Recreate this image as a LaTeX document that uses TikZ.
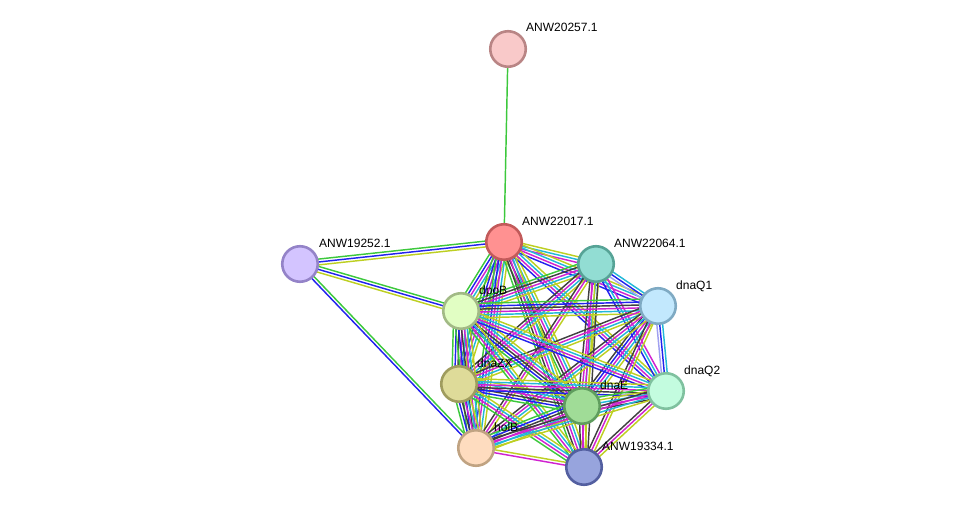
\documentclass[tikz,border=0pt]{standalone}
\usepackage{fontspec}
\setmainfont{Liberation Sans}
\usetikzlibrary{calc}
\pgfdeclarelayer{bg}
\pgfsetlayers{bg,main}
\definecolor{sgreen}{HTML}{3CC83C}
\definecolor{sblue}{HTML}{2222EE}
\definecolor{scyan}{HTML}{22B8D8}
\definecolor{smag}{HTML}{D022D0}
\definecolor{syel}{HTML}{BDCF22}
\definecolor{sblack}{HTML}{404040}
\definecolor{spurp}{HTML}{A0A0F0}
\definecolor{fa}{HTML}{F9C9C9}\definecolor{da}{HTML}{B98585}
\definecolor{fb}{HTML}{FF9191}\definecolor{db}{HTML}{C25A5A}
\definecolor{fc}{HTML}{D3C4FF}\definecolor{dc}{HTML}{9483C8}
\definecolor{fd}{HTML}{92DDD3}\definecolor{dd}{HTML}{56A396}
\definecolor{fe}{HTML}{C2E8FD}\definecolor{de}{HTML}{7FAAC3}
\definecolor{ff}{HTML}{E1FEC3}\definecolor{df}{HTML}{A2BA86}
\definecolor{fg}{HTML}{DEDB99}\definecolor{dg}{HTML}{9F9C5E}
\definecolor{fh}{HTML}{C3FCDF}\definecolor{dh}{HTML}{7FC19F}
\definecolor{fi}{HTML}{A0DC97}\definecolor{di}{HTML}{5F9D5E}
\definecolor{fj}{HTML}{FEDCBF}\definecolor{dj}{HTML}{C0A382}
\definecolor{fk}{HTML}{97A4DD}\definecolor{dk}{HTML}{535FA0}
\tikzset{
  prot/.style n args={2}{circle,minimum size=35.5pt,inner sep=0pt,line width=2.6pt,draw=#2,fill=#1},
  lbl/.style={anchor=base west,inner sep=0pt,font=\fontsize{12}{14}\selectfont},
  edge/.style={line width=1.45pt}
}
\newcommand\sedge[3]{%
  \foreach \c [count=\i] in {#3} {\xdef\ncolmax{\i}}%
  \foreach \c [count=\i] in {#3} {%
    \pgfmathsetmacro\off{(\i-(\ncolmax+1)/2)*2.9}%
    \draw[edge,\c] ($(#1)!\off pt!90:(#2)$) -- ($(#2)!\off pt!-90:(#1)$);
  }%
}
\begin{document}
\begin{tikzpicture}[x=1pt,y=-1pt]
\useasboundingbox (0,0) rectangle (976,513);
\node[prot={fa}{da}] (n20257) at (508,49) {};
\node[prot={fb}{db}] (n22017) at (504,242) {};
\node[prot={fc}{dc}] (n19252) at (300,264) {};
\node[prot={fd}{dd}] (n22064) at (596,264) {};
\node[prot={fe}{de}] (q1) at (658,306) {};
\node[prot={ff}{df}] (dpob) at (461,311) {};
\node[prot={fg}{dg}] (dnazx) at (459,384) {};
\node[prot={fh}{dh}] (q2) at (666,391) {};
\node[prot={fi}{di}] (dnae) at (582,406) {};
\node[prot={fj}{dj}] (holb) at (476,448) {};
\node[prot={fk}{dk}] (n19334) at (584,467) {};

\node[lbl] (l20257) at ($(n20257)+(18,-17)$) {ANW20257.1};
\node[lbl] (l22017) at ($(n22017)+(18,-17)$) {ANW22017.1};
\node[lbl] (l19252) at ($(n19252)+(19,-17)$) {ANW19252.1};
\node[lbl] (l22064) at ($(n22064)+(18,-17)$) {ANW22064.1};
\node[lbl] (lq1) at ($(q1)+(18,-17)$) {dnaQ1};
\node[lbl] (ldpob) at ($(dpob)+(18,-17)$) {dpoB};
\node[lbl] (ldnazx) at ($(dnazx)+(18,-17)$) {dnaZX};
\node[lbl] (lq2) at ($(q2)+(18,-17)$) {dnaQ2};
\node[lbl] (ldnae) at ($(dnae)+(18,-17)$) {dnaE};
\node[lbl] (lholb) at ($(holb)+(18,-17)$) {holB};
\node[lbl] (l19334) at ($(n19334)+(18,-17)$) {ANW19334.1};

\begin{pgfonlayer}{bg}
\sedge{n20257}{n22017}{sgreen}
\sedge{n19252}{n22017}{syel,sblue,sgreen}
\sedge{n19252}{dpob}{syel,sblue,sgreen}
\sedge{n19252}{holb}{sblue,sgreen}
\sedge{n22017}{n22064}{smag,scyan,syel}
\sedge{n22017}{q1}{sblue,smag,scyan,syel}
\sedge{n22017}{dpob}{sgreen,sblue,smag,scyan,syel}
\sedge{n22017}{dnazx}{sgreen,sblue,smag,scyan,syel}
\sedge{n22017}{dnae}{sgreen,sblack,smag,scyan,syel}
\sedge{n22017}{q2}{sblue,smag,scyan,syel}
\sedge{n22017}{holb}{sgreen,sblue,smag,scyan,syel}
\sedge{n22017}{n19334}{sgreen,sblack,smag,scyan,syel}
\sedge{n22064}{q1}{spurp,sblue,scyan}
\sedge{n22064}{dpob}{sgreen,sblack,smag,scyan,syel}
\sedge{n22064}{dnazx}{sblack,smag,scyan,syel}
\sedge{n22064}{dnae}{sblack,smag,scyan,syel}
\sedge{n22064}{q2}{sblue,scyan,smag}
\sedge{n22064}{holb}{sblack,smag,syel}
\sedge{n22064}{n19334}{smag,syel,sblack}
\sedge{q1}{q2}{spurp,sblue,scyan}
\sedge{q1}{dpob}{sgreen,sblue,sblack,smag,scyan,syel}
\sedge{q1}{dnazx}{sblack,smag,scyan,syel}
\sedge{q1}{dnae}{sblack,sblue,smag,scyan,syel}
\sedge{q1}{holb}{sblack,smag,scyan,syel}
\sedge{q1}{n19334}{sblack,smag,syel}
\sedge{dpob}{dnazx}{sgreen,sblue,sblack,smag,scyan,syel}
\sedge{dpob}{dnae}{sgreen,sblue,sblack,smag,scyan,syel}
\sedge{dpob}{q2}{sblue,smag,scyan,syel}
\sedge{dpob}{holb}{sgreen,sblue,sblack,smag,scyan,syel}
\sedge{dpob}{n19334}{sgreen,smag,scyan,syel}
\sedge{dnazx}{dnae}{sgreen,sblue,sblack,smag,scyan,syel}
\sedge{dnazx}{q2}{sblue,sblack,smag,scyan,syel}
\sedge{dnazx}{holb}{sgreen,sblue,sblack,smag,scyan,syel}
\sedge{dnazx}{n19334}{sgreen,smag,scyan,syel}
\sedge{dnae}{q2}{sblack,smag,scyan,syel,sgreen}
\sedge{dnae}{holb}{sgreen,sblue,sblack,smag,scyan,syel}
\sedge{dnae}{n19334}{sblack,smag,syel}
\sedge{q2}{holb}{sblack,smag,scyan,syel}
\sedge{q2}{n19334}{sblack,smag,syel}
\sedge{holb}{n19334}{smag,syel}
\end{pgfonlayer}
\end{tikzpicture}
\end{document}
